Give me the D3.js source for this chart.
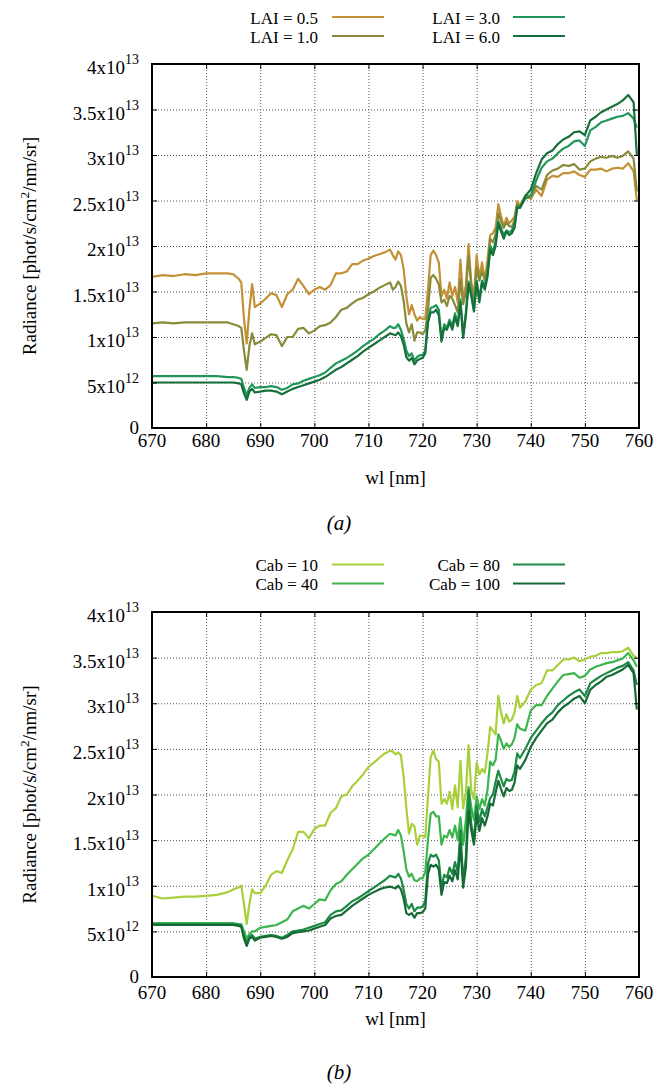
<!DOCTYPE html>
<html>
<head>
<meta charset="utf-8">
<script src="https://cdn.jsdelivr.net/npm/d3@7"></script>
<style>
  body { margin: 0; background: #fff; }
  text { font-family: "Liberation Serif", "DejaVu Serif", serif; fill: #000; }
  .grid line { stroke: #555; stroke-width: 1; stroke-dasharray: 1,2; }
  .grid .domain { display: none; }
  .ticks line { stroke: #000; stroke-width: 1; }
  .ticks .domain { display: none; }
</style>
</head>
<body>
<svg id="chart" width="658" height="1088"></svg>
<script>
// wavelength samples [nm], shared by every series
const wl = [
  670, 672, 674, 676, 678, 680, 682, 684, 685, 686, 686.5, 687, 687.5, 688, 688.5, 689,
  690, 691, 692, 693, 694, 695, 696, 697, 698, 699, 700, 701, 702, 703, 704, 705, 706, 707, 708, 709, 710, 711, 712, 713,
  714, 714.5, 715, 715.5, 716, 716.5, 717, 717.5, 718, 718.5, 719, 719.5, 720, 720.5, 721, 721.5, 722, 722.5, 723, 723.5, 724, 724.5, 725, 725.5,
  726, 726.5, 727, 727.5, 728, 728.5, 729, 729.5, 730, 730.5, 731, 731.5, 732, 732.5, 733, 733.5, 734, 734.5, 735, 735.5, 736, 736.5, 737, 737.5, 738,
  739, 740, 741, 742, 743, 744, 745, 746, 747, 748, 749, 750, 751, 752, 753, 754, 755, 756, 757, 758, 759, 759.6
];

// radiance in units of 1e13 phot/s/cm2/nm/sr
// panel (a): LAI
const lai05 = [
  1.66, 1.68, 1.67, 1.69, 1.68, 1.70, 1.70, 1.70, 1.69, 1.64, 1.60, 1.20, 0.93, 1.30, 1.58, 1.33,
  1.37, 1.42, 1.48, 1.46, 1.33, 1.47, 1.52, 1.64, 1.56, 1.47, 1.52, 1.55, 1.52, 1.57, 1.70, 1.70, 1.72, 1.80, 1.80, 1.84, 1.86, 1.89, 1.91, 1.93,
  1.96, 1.90, 1.85, 1.94, 1.90, 1.75, 1.45, 1.25, 1.35, 1.25, 1.18, 1.22, 1.20, 1.20, 1.52, 1.90, 1.95, 1.90, 1.82, 1.45, 1.52, 1.42, 1.60, 1.45,
  1.55, 1.38, 1.85, 1.42, 1.56, 2.02, 1.60, 1.45, 1.90, 1.65, 1.82, 1.62, 1.85, 2.12, 2.14, 2.20, 2.46, 2.33, 2.22, 2.31, 2.25, 2.28, 2.32, 2.49, 2.45,
  2.55, 2.52, 2.62, 2.55, 2.73, 2.77, 2.76, 2.80, 2.80, 2.82, 2.78, 2.76, 2.84, 2.84, 2.85, 2.82, 2.85, 2.86, 2.85, 2.91, 2.82, 2.50
];
const lai10 = [
  1.15, 1.16, 1.15, 1.16, 1.16, 1.16, 1.16, 1.16, 1.14, 1.12, 1.10, 0.85, 0.64, 0.90, 1.04, 0.92,
  0.95, 0.99, 1.03, 1.02, 0.90, 1.00, 1.00, 1.09, 1.10, 1.04, 1.07, 1.12, 1.13, 1.16, 1.22, 1.30, 1.32, 1.37, 1.41, 1.43, 1.47, 1.50, 1.54, 1.57,
  1.60, 1.52, 1.55, 1.61, 1.56, 1.40, 1.15, 1.05, 1.14, 0.96, 1.05, 1.05, 1.03, 1.07, 1.30, 1.65, 1.68, 1.64, 1.58, 1.38, 1.41, 1.34, 1.45, 1.42,
  1.35, 1.27, 1.63, 1.36, 1.49, 1.89, 1.56, 1.38, 1.76, 1.62, 1.72, 1.63, 1.75, 2.08, 2.04, 2.13, 2.36, 2.27, 2.20, 2.26, 2.22, 2.21, 2.28, 2.46, 2.42,
  2.55, 2.55, 2.66, 2.62, 2.78, 2.83, 2.85, 2.89, 2.88, 2.90, 2.84, 2.85, 2.93, 2.96, 2.98, 2.97, 2.99, 2.97, 2.99, 3.04, 2.96, 2.60
];
const lai30 = [
  0.57, 0.57, 0.57, 0.57, 0.57, 0.57, 0.57, 0.56, 0.56, 0.55, 0.54, 0.44, 0.36, 0.44, 0.48, 0.44,
  0.45, 0.45, 0.46, 0.45, 0.42, 0.44, 0.48, 0.49, 0.52, 0.54, 0.56, 0.58, 0.61, 0.66, 0.71, 0.74, 0.77, 0.81, 0.85, 0.90, 0.94, 0.98, 1.03, 1.07,
  1.12, 1.10, 1.10, 1.14, 1.08, 0.98, 0.85, 0.79, 0.82, 0.74, 0.78, 0.80, 0.80, 0.85, 1.19, 1.32, 1.33, 1.35, 1.30, 0.98, 1.14, 1.10, 1.19, 1.12,
  1.26, 1.14, 1.41, 1.02, 1.27, 1.61, 1.49, 1.30, 1.62, 1.42, 1.62, 1.56, 1.70, 2.00, 1.94, 2.05, 2.27, 2.20, 2.12, 2.17, 2.15, 2.17, 2.24, 2.44, 2.42,
  2.52, 2.55, 2.72, 2.86, 2.93, 2.96, 3.02, 3.07, 3.10, 3.15, 3.16, 3.10, 3.27, 3.31, 3.36, 3.38, 3.40, 3.42, 3.43, 3.46, 3.40, 3.30
];
const lai60 = [
  0.50, 0.50, 0.50, 0.50, 0.50, 0.50, 0.50, 0.50, 0.50, 0.49, 0.48, 0.38, 0.31, 0.40, 0.43, 0.39,
  0.40, 0.41, 0.41, 0.40, 0.37, 0.40, 0.43, 0.45, 0.47, 0.49, 0.51, 0.53, 0.56, 0.60, 0.64, 0.67, 0.71, 0.75, 0.79, 0.84, 0.88, 0.92, 0.96, 1.00,
  1.04, 1.03, 1.02, 1.05, 1.01, 0.92, 0.78, 0.74, 0.77, 0.70, 0.74, 0.76, 0.77, 0.82, 1.16, 1.27, 1.27, 1.30, 1.24, 0.95, 1.10, 1.08, 1.16, 1.08,
  1.22, 1.12, 1.38, 0.99, 1.23, 1.58, 1.45, 1.28, 1.60, 1.38, 1.60, 1.52, 1.66, 1.96, 1.90, 2.00, 2.25, 2.16, 2.08, 2.16, 2.12, 2.14, 2.20, 2.42, 2.42,
  2.55, 2.62, 2.80, 2.95, 3.02, 3.05, 3.12, 3.17, 3.20, 3.25, 3.26, 3.22, 3.38, 3.42, 3.47, 3.50, 3.53, 3.56, 3.60, 3.66, 3.58, 3.00
];

// panel (b): Cab
const cab10 = [
  0.89, 0.86, 0.87, 0.88, 0.88, 0.89, 0.90, 0.93, 0.96, 0.98, 1.00, 0.80, 0.58, 0.80, 0.96, 0.92,
  0.92, 1.00, 1.12, 1.16, 1.14, 1.28, 1.40, 1.59, 1.59, 1.52, 1.62, 1.66, 1.66, 1.80, 1.85, 1.98, 2.00, 2.09, 2.15, 2.22, 2.30, 2.35, 2.40, 2.45,
  2.48, 2.47, 2.44, 2.46, 2.43, 2.20, 1.85, 1.57, 1.68, 1.65, 1.45, 1.55, 1.55, 1.53, 1.97, 2.41, 2.48, 2.39, 2.36, 1.90, 1.95, 1.90, 2.03, 1.84,
  2.10, 1.86, 2.37, 1.85, 2.01, 2.54, 2.04, 1.95, 2.35, 2.22, 2.28, 2.24, 2.45, 2.74, 2.70, 2.66, 3.08, 2.90, 2.78, 2.88, 2.80, 2.82, 2.90, 3.08, 2.95,
  3.02, 3.15, 3.20, 3.22, 3.36, 3.36, 3.42, 3.48, 3.48, 3.50, 3.46, 3.48, 3.51, 3.52, 3.55, 3.55, 3.56, 3.56, 3.57, 3.61, 3.52, 3.50
];
const cab40 = [
  0.59, 0.59, 0.59, 0.59, 0.59, 0.59, 0.59, 0.59, 0.59, 0.58, 0.58, 0.50, 0.42, 0.47, 0.50, 0.50,
  0.54, 0.55, 0.56, 0.57, 0.60, 0.63, 0.72, 0.75, 0.78, 0.75, 0.80, 0.85, 0.84, 0.95, 1.02, 1.05, 1.12, 1.18, 1.24, 1.30, 1.34, 1.40, 1.46, 1.52,
  1.57, 1.56, 1.55, 1.61, 1.55, 1.38, 1.18, 1.10, 1.13, 1.06, 1.05, 1.08, 1.08, 1.15, 1.50, 1.79, 1.81, 1.76, 1.76, 1.45, 1.55, 1.53, 1.61, 1.53,
  1.66, 1.50, 1.75, 1.45, 1.72, 2.08, 1.86, 1.72, 1.98, 1.84, 1.95, 1.88, 2.05, 2.36, 2.32, 2.38, 2.66, 2.59, 2.50, 2.56, 2.52, 2.55, 2.62, 2.77, 2.72,
  2.70, 2.92, 2.98, 2.98, 3.08, 3.16, 3.24, 3.31, 3.32, 3.33, 3.28, 3.30, 3.37, 3.40, 3.42, 3.44, 3.45, 3.47, 3.49, 3.55, 3.47, 3.40
];
const cab80 = [
  0.58, 0.58, 0.58, 0.58, 0.58, 0.58, 0.58, 0.58, 0.58, 0.57, 0.56, 0.45, 0.37, 0.44, 0.46, 0.42,
  0.44, 0.45, 0.46, 0.45, 0.43, 0.46, 0.50, 0.51, 0.52, 0.54, 0.56, 0.58, 0.60, 0.68, 0.72, 0.73, 0.78, 0.83, 0.86, 0.90, 0.94, 0.98, 1.02, 1.06,
  1.11, 1.10, 1.09, 1.13, 1.08, 0.96, 0.80, 0.75, 0.80, 0.72, 0.76, 0.76, 0.77, 0.83, 1.24, 1.34, 1.32, 1.34, 1.28, 0.98, 1.12, 1.09, 1.20, 1.13,
  1.26, 1.15, 1.61, 1.05, 1.31, 2.04, 1.68, 1.50, 1.88, 1.70, 1.84, 1.76, 1.86, 1.96, 2.00, 2.14, 2.26, 2.17, 2.09, 2.17, 2.15, 2.16, 2.25, 2.45, 2.40,
  2.50, 2.62, 2.70, 2.78, 2.85, 2.90, 2.98, 3.03, 3.08, 3.12, 3.15, 3.08, 3.22, 3.26, 3.30, 3.33, 3.36, 3.39, 3.41, 3.45, 3.36, 3.20
];
const cab100 = [
  0.57, 0.57, 0.57, 0.57, 0.57, 0.57, 0.57, 0.57, 0.57, 0.56, 0.55, 0.42, 0.34, 0.42, 0.44, 0.40,
  0.43, 0.44, 0.45, 0.44, 0.42, 0.44, 0.48, 0.49, 0.50, 0.51, 0.53, 0.55, 0.57, 0.64, 0.67, 0.68, 0.73, 0.78, 0.82, 0.86, 0.90, 0.93, 0.96, 0.98,
  0.99, 0.98, 0.97, 1.00, 0.96, 0.86, 0.70, 0.68, 0.70, 0.65, 0.70, 0.70, 0.71, 0.75, 1.13, 1.23, 1.21, 1.23, 1.18, 0.90, 1.04, 1.03, 1.11, 1.05,
  1.17, 1.07, 1.46, 0.98, 1.20, 1.82, 1.61, 1.45, 1.78, 1.60, 1.74, 1.66, 1.76, 1.90, 1.88, 2.02, 2.15, 2.06, 1.98, 2.07, 2.04, 2.05, 2.13, 2.32, 2.28,
  2.38, 2.52, 2.62, 2.70, 2.78, 2.82, 2.90, 2.96, 3.00, 3.05, 3.08, 3.00, 3.15, 3.20, 3.24, 3.29, 3.31, 3.34, 3.37, 3.42, 3.33, 2.93
];

// axes
const xTicks = [670, 680, 690, 700, 710, 720, 730, 740, 750, 760];
const yTicks = [0, 0.5, 1, 1.5, 2, 2.5, 3, 3.5, 4];
const yTickLabels = [["0", ""], ["5x10", "12"], ["1x10", "13"], ["1.5x10", "13"], ["2x10", "13"],
                     ["2.5x10", "13"], ["3x10", "13"], ["3.5x10", "13"], ["4x10", "13"]];

const lai_names = ["LAI = 0.5", "LAI = 1.0", "LAI = 3.0", "LAI = 6.0"];
const lai_colors = ["#c39035", "#878a38", "#21965a", "#16703a"];
const cab_names = ["Cab = 10", "Cab = 40", "Cab = 80", "Cab = 100"];
const cab_colors = ["#a9cf3b", "#3cb64c", "#1c8944", "#156b36"];

var svg = d3.select("#chart");
var left = 152, right = 639;
var fs = 19; // main font size, like the Times text of the figure
var x = d3.scaleLinear().domain([670, 760]).range([left, right]);

// draws one panel, everything relative to top/bottom of plot box
function drawPanel(p){
  var g = svg.append("g");
  var y = d3.scaleLinear().domain([0, 4]).range([p.bottom, p.top]);
  var w = right - left;
  var h = p.bottom - p.top;

  // dotted grid
  g.append("g").attr("class", "grid")
    .attr("transform", "translate(0," + p.bottom + ")")
    .call(d3.axisBottom(x).tickValues(xTicks.slice(1, -1)).tickSize(-h).tickFormat(""));
  g.append("g").attr("class", "grid")
    .attr("transform", "translate(" + left + ",0)")
    .call(d3.axisLeft(y).tickValues(yTicks.slice(1, -1)).tickSize(-w).tickFormat(""));

  // the spectra
  var line = d3.line()
    .x(function(d, i){ return x(wl[i]); })
    .y(function(d){ return y(d); });

  g.selectAll(".spec")
    .data(p.series)
    .enter()
    .append("path")
    .attr("d", function(d){ return line(d); })
    .attr("fill", "none")
    .attr("stroke", function(d, i){ return p.colors[i]; })
    .attr("stroke-width", 2.2)
    .attr("stroke-linejoin", "round");

  // inward ticks on all four sides (mirror)
  g.append("g").attr("class", "ticks")
    .attr("transform", "translate(0," + p.bottom + ")")
    .call(d3.axisBottom(x).tickValues(xTicks).tickSize(-5).tickFormat(""));
  g.append("g").attr("class", "ticks")
    .attr("transform", "translate(0," + p.top + ")")
    .call(d3.axisTop(x).tickValues(xTicks).tickSize(-5).tickFormat(""));
  g.append("g").attr("class", "ticks")
    .attr("transform", "translate(" + left + ",0)")
    .call(d3.axisLeft(y).tickValues(yTicks).tickSize(-5).tickFormat(""));
  g.append("g").attr("class", "ticks")
    .attr("transform", "translate(" + right + ",0)")
    .call(d3.axisRight(y).tickValues(yTicks).tickSize(-5).tickFormat(""));

  // border
  g.append("rect")
    .attr("x", left).attr("y", p.top)
    .attr("width", w).attr("height", h)
    .attr("fill", "none").attr("stroke", "#000").attr("stroke-width", 2);

  // x tick labels
  g.selectAll(".xlab")
    .data(xTicks)
    .enter()
    .append("text")
    .attr("x", function(d){ return x(d); })
    .attr("y", p.xLabelY)
    .attr("text-anchor", "middle")
    .attr("font-size", fs)
    .text(function(d){ return d; });

  // y tick labels with superscript exponent
  var ylab = g.selectAll(".ylab")
    .data(yTicks)
    .enter()
    .append("text")
    .attr("x", 139)
    .attr("y", function(d, i){ return y(d) + (i == 0 ? 5.5 : 10); })
    .attr("text-anchor", "end")
    .attr("font-size", fs);
  ylab.append("tspan").text(function(d, i){ return yTickLabels[i][0]; });
  ylab.append("tspan")
    .attr("dy", -10)
    .attr("font-size", 14)
    .text(function(d, i){ return yTickLabels[i][1]; });

  // axis titles
  g.append("text")
    .attr("x", (left + right) / 2)
    .attr("y", p.xTitleY)
    .attr("text-anchor", "middle")
    .attr("font-size", fs)
    .text("wl [nm]");

  var yt = g.append("text")
    .attr("transform", "translate(36," + (p.top + p.bottom) / 2 + ") rotate(-90)")
    .attr("text-anchor", "middle")
    .attr("font-size", fs);
  yt.append("tspan").text("Radiance [phot/s/cm");
  yt.append("tspan").attr("dy", -7).attr("font-size", 13.5).text("2");
  yt.append("tspan").attr("dy", 7).text("/nm/sr]");

  // legend, 2 columns, text right aligned before the line sample
  var cols = [{tx: 318, l1: 332, l2: 384}, {tx: 500, l1: 513, l2: 565}];
  for (i = 0; i < p.names.length; i++){
    let c = cols[Math.floor(i / 2)];
    let by = p.legendY[i % 2];
    g.append("text")
      .attr("x", c.tx).attr("y", by)
      .attr("text-anchor", "end")
      .attr("font-size", 17)
      .text(p.names[i]);
    g.append("line")
      .attr("x1", c.l1).attr("x2", c.l2)
      .attr("y1", by - 6.5).attr("y2", by - 6.5)
      .attr("stroke", p.colors[i])
      .attr("stroke-width", 2.2);
  }

  // caption
  g.append("text")
    .attr("x", 339)
    .attr("y", p.captionY)
    .attr("text-anchor", "middle")
    .attr("font-size", 21)
    .attr("font-style", "italic")
    .text(p.caption);
}

drawPanel({
  top: 64, bottom: 428,
  series: [lai05, lai10, lai30, lai60],
  colors: lai_colors, names: lai_names,
  legendY: [23.5, 42.5],
  xLabelY: 447, xTitleY: 484, captionY: 530, caption: "(a)"
});

drawPanel({
  top: 612, bottom: 977,
  series: [cab10, cab40, cab80, cab100],
  colors: cab_colors, names: cab_names,
  legendY: [571, 590],
  xLabelY: 999, xTitleY: 1025, captionY: 1079, caption: "(b)"
});
</script>
</body>
</html>
